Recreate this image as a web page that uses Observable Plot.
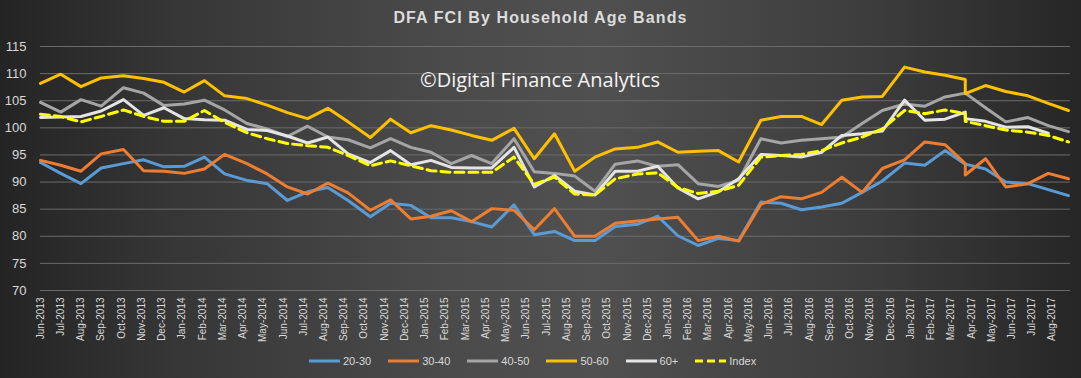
<!DOCTYPE html>
<html>
<head>
<meta charset="utf-8">
<script src="https://cdn.jsdelivr.net/npm/d3@7"></script>
<script src="https://cdn.jsdelivr.net/npm/@observablehq/plot@0.6"></script>
<style>
html, body { margin: 0; padding: 0; background: #333; }
#chart {
  position: relative; width: 1081px; height: 378px; overflow: hidden;
  background: linear-gradient(90deg, #242424 0%, #363636 16%, #4a4a4a 40%, #505050 55%, #3d3d3d 80%, #262626 100%);
  font-family: "Liberation Sans", Arial, sans-serif;
}
#title {
  position: absolute; left: 0; right: 0; top: 8px; line-height: 20px;
  text-align: center; color: #dcdcdc; font-weight: bold; font-size: 16px; letter-spacing: 1.1px;
}
#plot { position: absolute; left: 0; top: 36px; }
#watermark {
  position: absolute; left: 420px; top: 68px; line-height: 24px;
  color: #f4f4f4; font-size: 20px; font-family: "Open Sans", "Liberation Sans", sans-serif;
}
#legend {
  position: absolute; left: 309px; top: 353px; height: 16px;
  display: flex; align-items: center; color: #d9d9d9; font-size: 11px;
}
#legend .item { display: flex; align-items: center; margin-right: 17px; }
#legend .item:last-child { margin-right: 0; }
#legend svg { margin-right: 3px; }
</style>
</head>
<body>
<div id="chart">
  <div id="title"></div>
  <div id="plot"></div>
  <div id="watermark"></div>
  <div id="legend"></div>
</div>
<script>
// Month labels on the category (date) axis, Jun-2013 .. Aug-2017
const months = [
  "Jun-2013","Jul-2013","Aug-2013","Sep-2013","Oct-2013","Nov-2013","Dec-2013",
  "Jan-2014","Feb-2014","Mar-2014","Apr-2014","May-2014","Jun-2014","Jul-2014","Aug-2014","Sep-2014","Oct-2014","Nov-2014","Dec-2014",
  "Jan-2015","Feb-2015","Mar-2015","Apr-2015","May-2015","Jun-2015","Jul-2015","Aug-2015","Sep-2015","Oct-2015","Nov-2015","Dec-2015",
  "Jan-2016","Feb-2016","Mar-2016","Apr-2016","May-2016","Jun-2016","Jul-2016","Aug-2016","Sep-2016","Oct-2016","Nov-2016","Dec-2016",
  "Jan-2017","Feb-2017","Mar-2017","Apr-2017","May-2017","Jun-2017","Jul-2017","Aug-2017"
];

// Where each reading sits on the month axis (0 = Jun-2013)
const readAt = [
  0.0, 1.0, 2.0, 3.0, 4.1, 5.1, 6.1, 7.1, 8.1, 9.1,
  10.2, 11.2, 12.2, 13.2, 14.2, 15.2, 16.3, 17.3, 18.3, 19.3,
  20.3, 21.3, 22.3, 23.4, 24.4, 25.4, 26.4, 27.4, 28.4, 29.5,
  30.5, 31.5, 32.5, 33.5, 34.5, 35.6, 36.6, 37.6, 38.6, 39.6,
  40.6, 41.6, 42.7, 43.7, 44.7, 45.7, 45.7, 46.7, 47.7, 48.8,
  49.8, 50.8
];

const seriesNames = ["20-30", "30-40", "40-50", "50-60", "60+", "Index"];

const s2030 = [
  93.6, 91.6, 89.7, 92.6, 93.4, 94.1, 92.8, 92.9, 94.6, 91.5,
  90.3, 89.7, 86.6, 88.2, 89.0, 86.6, 83.6, 86.1, 85.7, 83.4,
  83.4, 82.7, 81.7, 85.8, 80.3, 80.9, 79.2, 79.2, 81.8, 82.2,
  83.7, 80.1, 78.3, 79.6, 79.2, 86.3, 86.1, 84.9, 85.4, 86.1,
  88.1, 90.2, 93.5, 93.1, 95.8, 93.3, 93.3, 92.4, 90.0, 89.7,
  88.6, 87.5
];
const s3040 = [
  94.0, 93.1, 92.0, 95.2, 96.0, 92.1, 92.0, 91.6, 92.4, 95.1,
  93.4, 91.5, 89.1, 87.8, 89.8, 88.0, 84.8, 86.7, 83.2, 83.7,
  84.7, 82.7, 85.1, 84.8, 81.2, 85.1, 80.0, 80.0, 82.4, 82.8,
  83.2, 83.5, 79.2, 80.0, 79.1, 85.9, 87.3, 86.9, 88.1, 90.9,
  88.1, 92.5, 94.1, 97.4, 96.9, 93.4, 91.3, 94.3, 89.1, 89.7,
  91.6, 90.6
];
const s4050 = [
  104.7, 102.9, 105.2, 104.0, 107.4, 106.4, 104.1, 104.4, 105.1, 103.3,
  100.8, 99.8, 98.4, 100.3, 98.3, 97.8, 96.3, 98.0, 96.4, 95.5,
  93.4, 94.9, 93.4, 98.0, 91.9, 91.6, 91.1, 88.3, 93.3, 93.9,
  92.9, 93.2, 89.7, 89.2, 90.3, 98.0, 97.2, 97.7, 98.0, 98.3,
  100.8, 103.2, 104.4, 104.0, 105.7, 106.4, 106.4, 103.7, 101.1, 101.9,
  100.4, 99.3
];
const s5060 = [
  108.2, 109.9, 107.6, 109.2, 109.6, 109.1, 108.4, 106.6, 108.7, 105.9,
  105.4, 104.2, 102.8, 101.7, 103.6, 101.1, 98.2, 101.6, 99.1, 100.4,
  99.6, 98.6, 97.7, 99.9, 94.3, 98.9, 92.0, 94.6, 96.1, 96.4,
  97.4, 95.5, 95.7, 95.8, 93.7, 101.4, 102.1, 102.1, 100.6, 105.1,
  105.7, 105.8, 111.2, 110.3, 109.7, 108.9, 106.3, 107.8, 106.7, 105.9,
  104.5, 103.2
];
const s60plus = [
  101.9, 102.0, 102.1, 103.1, 105.2, 102.3, 103.7, 101.7, 101.5, 101.4,
  99.7, 99.5, 98.5, 97.2, 98.3, 95.2, 93.6, 95.8, 93.2, 94.0,
  92.7, 92.6, 92.6, 96.4, 89.1, 91.2, 88.3, 87.6, 92.0, 92.0,
  92.9, 88.9, 86.9, 88.2, 90.6, 95.1, 94.9, 94.6, 95.5, 98.6,
  98.9, 99.4, 105.1, 101.4, 101.6, 102.9, 101.7, 101.2, 100.1, 100.2,
  99.0, null
];
const sIndex = [
  102.5, 102.1, 101.1, 102.1, 103.3, 102.1, 101.2, 101.2, 103.2, 101.0,
  99.1, 98.0, 97.1, 96.7, 96.4, 94.9, 93.0, 93.9, 93.0, 92.1,
  91.8, 91.8, 91.8, 94.6, 89.6, 90.9, 87.8, 87.6, 90.6, 91.5,
  91.7, 89.0, 87.9, 88.3, 89.4, 94.6, 94.9, 95.1, 95.8, 97.2,
  98.3, 99.8, 103.2, 102.6, 103.3, 102.6, 101.2, 100.4, 99.6, 99.2,
  98.6, 97.4
];

const yTicks = [70, 75, 80, 85, 90, 95, 100, 105, 110, 115];
const seriesColors = ["#5b9bd5", "#ed7d31", "#a5a5a5", "#ffc000", "#e4e4e4", "#ffff00"];

const titleText = "DFA FCI By Household Age Bands";
const watermarkText = "\u00A9Digital Finance Analytics";

const seriesValues = [s2030, s3040, s4050, s5060, s60plus, sIndex];
const rows = seriesNames.flatMap((name, j) =>
  seriesValues[j].map((v, k) => ({ series: name, t: readAt[k], v }))
);

const plot = Plot.plot({
  width: 1081,
  height: 312,
  marginLeft: 40,
  marginRight: 11,
  marginTop: 10,
  marginBottom: 58,
  style: { background: "transparent", color: "#d9d9d9", fontFamily: "'Liberation Sans', Arial, sans-serif", overflow: "visible" },
  x: { type: "linear", domain: [0, 50.9], axis: null },
  y: { domain: [70, 115], axis: null },
  color: { domain: seriesNames, range: seriesColors },
  marks: [
    Plot.gridY(yTicks, { stroke: "#6b6b6b", strokeOpacity: 1, strokeWidth: 1 }),
    Plot.axisY(yTicks, { label: null, tickSize: 0, tickPadding: 14, fontSize: 13, fill: "#d9d9d9", tickFormat: d => String(d) }),
    Plot.axisX(months.map((m, i) => i), {
      label: null, tickSize: 0, tickPadding: 7, tickRotate: -90, fontSize: 10, fill: "#d9d9d9",
      tickFormat: i => months[i]
    }),
    Plot.line(rows.filter(d => d.series !== "Index"), {
      x: "t", y: "v", z: "series", stroke: "series",
      strokeWidth: 3, strokeLinejoin: "round", strokeLinecap: "round"
    }),
    Plot.line(rows.filter(d => d.series === "Index"), {
      x: "t", y: "v", stroke: "series",
      strokeWidth: 3, strokeDasharray: "9,5", strokeLinejoin: "round"
    })
  ]
});

document.getElementById("plot").appendChild(plot);
document.getElementById("title").textContent = titleText;
document.getElementById("watermark").textContent = watermarkText;

// Legend built from the same colour scale
const colorScale = plot.scale("color");
const legend = document.getElementById("legend");
seriesNames.forEach((name, j) => {
  const item = document.createElement("div");
  item.className = "item";
  const dashed = name === "Index";
  const col = colorScale.range[colorScale.domain.indexOf(name)];
  item.innerHTML =
    `<svg width="31" height="6"><line x1="0" y1="3" x2="31" y2="3" stroke="${col}" stroke-width="3" ${dashed ? 'stroke-dasharray="8,4"' : ''}/></svg><span>${name}</span>`;
  legend.appendChild(item);
});
</script>
</body>
</html>
